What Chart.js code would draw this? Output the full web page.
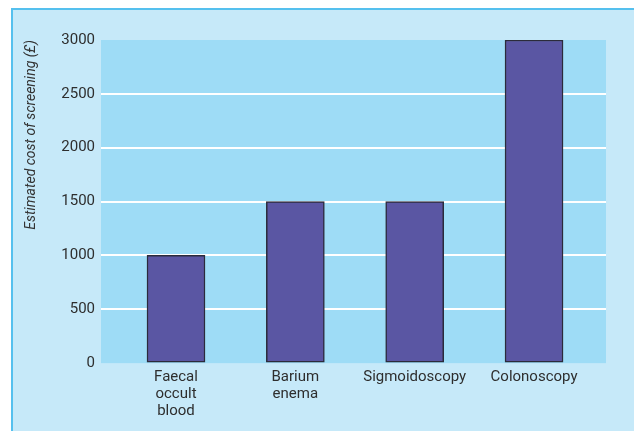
<!DOCTYPE html>
<html>
<head>
<meta charset="utf-8">
<script src="https://cdn.jsdelivr.net/npm/chart.js@4"></script>
<style>
    html, body { margin: 0; padding: 0; background: #fff; overflow: hidden; }
    #frame {
        position: absolute; left: 11px; top: 8px; width: 640px; height: 440px;
        background: #c6e9f9; border-left: 2px solid #55c0ee; border-top: 2px solid #55c0ee;
    }
    #wrap { position: absolute; left: 0; top: 0; width: 634px; height: 431px; }
</style>
</head>
<body>
<div id="frame"></div>
<div id="wrap"><canvas id="costChart" width="634" height="431"></canvas></div>
<script>
const categories = [['Faecal', 'occult', 'blood'], ['Barium', 'enema'], 'Sigmoidoscopy', 'Colonoscopy'];
const costs = [1000, 1500, 1500, 3000];
const yTicks = [0, 500, 1000, 1500, 2000, 2500, 3000];

// light blue plot background behind the bars
const plotBackground = {
    id: 'plotBackground',
    beforeDraw(chart) {
        const { ctx, chartArea: a } = chart;
        ctx.save();
        ctx.fillStyle = '#9edcf6';
        ctx.fillRect(a.left, a.top, a.right - a.left, a.bottom - a.top);
        ctx.restore();
    }
};

new Chart(document.getElementById('costChart').getContext('2d'), {
    type: 'bar',
    data: {
        datasets: [{
            data: costs.map((v, i) => ({ x: i, y: v })),
            backgroundColor: '#5a56a3',
            borderColor: '#2b2b3b',
            borderWidth: 1.5,
            borderSkipped: false,
            barThickness: 58
        }]
    },
    options: {
        responsive: false,
        animation: false,
        devicePixelRatio: 1,
        layout: { padding: { left: 13, right: 28, top: 40, bottom: 13 } },
        plugins: { legend: { display: false }, tooltip: { enabled: false } },
        scales: {
            x: {
                type: 'linear',
                offset: false,
                min: -0.6285,
                max: 3.603,
                grid: { display: false },
                border: { display: false },
                afterBuildTicks: axis => { axis.ticks = categories.map((_, i) => ({ value: i })); },
                ticks: {
                    autoSkip: false,
                    maxRotation: 0,
                    padding: -2,
                    color: '#2e2e2e',
                    font: { family: 'Roboto', size: 15, lineHeight: 1.13 },
                    callback: v => categories[v]
                }
            },
            y: {
                min: 0,
                max: 3000,
                afterBuildTicks: axis => { axis.ticks = yTicks.map(v => ({ value: v })); },
                afterFit: axis => { axis.width = 88; },
                grid: {
                    drawTicks: false,
                    lineWidth: 2,
                    color: c => (c.tick.value === 0 || c.tick.value === 3000) ? 'rgba(0,0,0,0)' : '#ffffff'
                },
                border: { display: false },
                ticks: {
                    padding: 6,
                    color: '#2e2e2e',
                    font: { family: 'Roboto', size: 15 },
                    callback: v => String(v)
                },
                title: {
                    display: true,
                    align: 'end',
                    text: 'Estimated cost of screening (£)',
                    color: '#333',
                    padding: { top: 10, bottom: 0 },
                    font: { family: 'Roboto', size: 14, style: 'italic' }
                }
            }
        }
    },
    plugins: [plotBackground]
});
</script>
</body>
</html>
